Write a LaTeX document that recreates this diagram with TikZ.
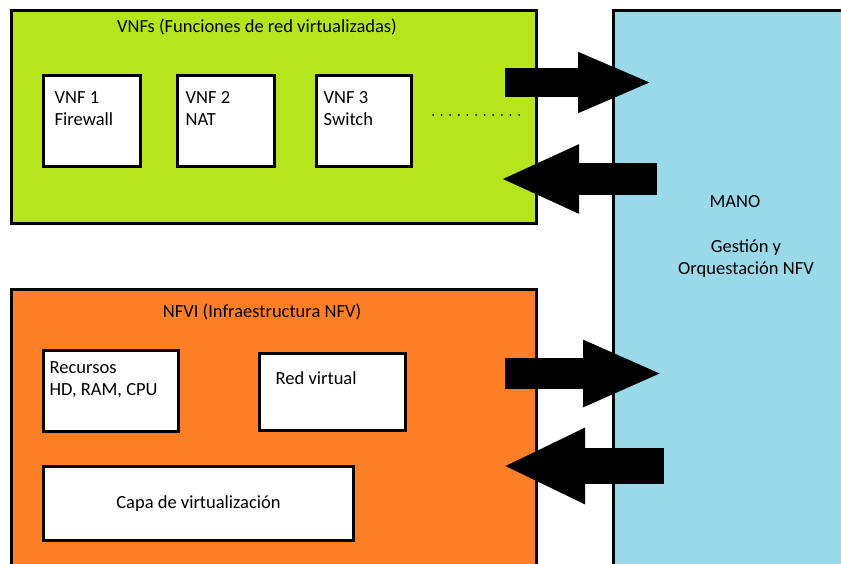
\documentclass[tikz,border=0pt]{standalone}
\usepackage{fontspec}
\setmainfont{Carlito}
\usetikzlibrary{positioning,arrows.meta}
\definecolor{vnfgreen}{HTML}{B5E61D}
\definecolor{nfviorange}{HTML}{FF7F27}
\definecolor{manoblue}{HTML}{99D9EA}

\begin{document}
\begin{tikzpicture}[x=1pt,y=-1pt,font=\fontsize{18.5}{22}\selectfont]
    \tikzstyle{layer}=[rectangle,
                       draw=black,
                       line width=3pt,
                       anchor=north west,
                       inner sep=0pt]
    \tikzstyle{box}=[layer, fill=white]
    \tikzset{boxtext/.style={align=left, inner sep=0pt, anchor=north west}}
    \tikzset{blockarrow/.style n args={3}{line width=#1, -{Triangle[length=#2,width=#3]}}}

    \useasboundingbox (0,0) rectangle (841,563);

    \node[layer, fill=vnfgreen, minimum width=525.5pt, minimum height=213.5pt] (vnfs) at (9.5,8.5) {};
    \node[layer, fill=nfviorange, minimum width=525pt, minimum height=290pt] (nfvi) at (10,288) {};
    \node[layer, fill=manoblue, minimum width=240pt, minimum height=570pt] (mano) at (611.5,9) {};

    \node (vnftitle)  at (257,27)  {VNFs (Funciones de red virtualizadas)};
    \node (nfvititle) at (262,312) {NFVI (Infraestructura NFV)};
    \node (manotitle) at (735,202) {MANO};
    \node[align=center] (manotext) at (746,259) {Gestión y\\Orquestación NFV};

    \node[box, minimum width=97pt, minimum height=91pt,
          label={[boxtext, xshift=12.5pt, yshift=-17.5pt]north west:VNF 1\\Firewall}] (vnf1) at (42,74) {};
    \node[box, minimum width=97pt, minimum height=91pt, right=34pt of vnf1,
          label={[boxtext, xshift=9.5pt, yshift=-17.5pt]north west:VNF 2\\NAT}] (vnf2) {};
    \node[box, minimum width=95pt, minimum height=91pt, right=39pt of vnf2,
          label={[boxtext, xshift=8.5pt, yshift=-17.5pt]north west:VNF 3\\Switch}] (vnf3) {};
    \foreach \i in {0,...,10}
        \fill (433+\i*8.6,115) circle (1pt);

    \node[box, minimum width=135pt, minimum height=81pt,
          label={[boxtext, xshift=7.5pt, yshift=-12.5pt]north west:Recursos\\HD, RAM, CPU}] (recursos) at (42,349) {};
    \node[box, minimum width=146pt, minimum height=77pt,
          label={[boxtext, xshift=17.5pt, yshift=-19pt]north west:Red virtual}] (redvirtual) at (258,352) {};
    \node[box, minimum width=310pt, minimum height=74pt] (capa) at (42,465) {Capa de virtualización};

    \coordinate (vnfout)  at (505,82.5);
    \coordinate (manoin1) at (653,82.5);
    \coordinate (manoout1) at (657,179);
    \coordinate (vnfin)   at (500,179);
    \coordinate (nfviout) at (505,373.5);
    \coordinate (manoin2) at (663,373.5);
    \coordinate (manoout2) at (664,466);
    \coordinate (nfviin)  at (503,466);

    \draw[blockarrow={29pt}{75pt}{55pt}] (vnfout) -- (manoin1);
    \draw[blockarrow={32pt}{79pt}{63pt}] (manoout1) -- (vnfin);
    \draw[blockarrow={31pt}{80pt}{61pt}] (nfviout) -- (manoin2);
    \draw[blockarrow={36pt}{82pt}{70pt}] (manoout2) -- (nfviin);
\end{tikzpicture}
\end{document}
